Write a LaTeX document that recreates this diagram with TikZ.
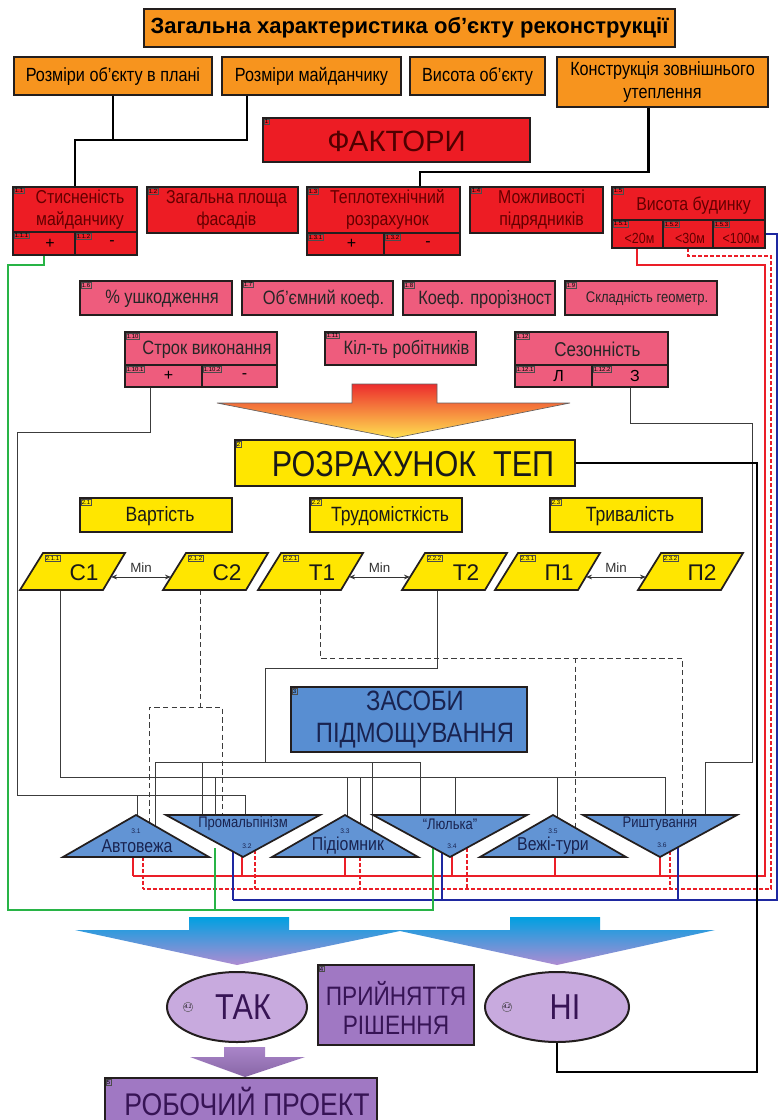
\documentclass[tikz,border=0pt]{standalone}
\usepackage{fontspec}
\setmainfont{Liberation Sans}
\newfontfamily\nar[FakeStretch=0.85]{Liberation Sans}
\usetikzlibrary{calc,fit,arrows.meta,shapes.geometric}
\definecolor{orC}{RGB}{247,148,30}
\definecolor{redC}{RGB}{237,28,36}
\definecolor{redT}{RGB}{100,0,0}
\definecolor{pinkC}{RGB}{238,92,125}
\definecolor{yelC}{RGB}{255,230,0}
\definecolor{bluC}{RGB}{88,142,210}
\definecolor{bluT}{RGB}{98,148,212}
\definecolor{navT}{RGB}{25,35,80}
\definecolor{lavC}{RGB}{200,170,222}
\definecolor{purC}{RGB}{160,120,195}
\definecolor{purT}{RGB}{55,20,85}
\definecolor{bdr}{RGB}{35,30,30}
\definecolor{lnC}{RGB}{60,60,60}
\definecolor{grnC}{RGB}{40,180,70}
\definecolor{bluL}{RGB}{30,40,160}
\definecolor{redL}{RGB}{235,30,40}
\definecolor{gA}{RGB}{236,45,45}
\definecolor{gB}{RGB}{255,225,80}
\definecolor{cA}{RGB}{0,160,225}
\definecolor{cB}{RGB}{175,140,210}
\tikzset{
  box/.style={draw=bdr, line width=1.5pt, inner sep=0pt},
  obox/.style={box, fill=orC},
  rbox/.style={box, fill=redC},
  pbox/.style={box, fill=pinkC},
  ybox/.style={box, fill=yelC},
  bbox/.style={box, fill=bluC},
  vbox/.style={box, fill=purC},
  ttl/.style={font=\bfseries\fontsize{16.5}{18}\selectfont, inner sep=0pt},
  otxt/.style={font=\nar\fontsize{14.3}{17}\selectfont, align=center, inner sep=0pt},
  rtxt/.style={text=redT, font=\nar\fontsize{14}{16.5}\selectfont, align=center, inner sep=0pt},
  r2txt/.style={text=redT, font=\nar\fontsize{11}{12}\selectfont, inner sep=0pt},
  ftxt/.style={text=redT!80!black, font=\fontsize{22}{24}\selectfont, inner sep=0pt},
  stxt/.style={text=black, font=\fontsize{12}{12}\selectfont, inner sep=0pt},
  ptxt/.style={text=black!85, font=\nar\fontsize{14.5}{15}\selectfont, inner sep=0pt},
  ptxts/.style={text=black!85, font=\nar\fontsize{11.5}{13}\selectfont, inner sep=0pt},
  ptxtl/.style={text=black!85, font=\nar\fontsize{15}{15}\selectfont, inner sep=0pt},
  teptxt/.style={text=black!90, font=\nar\fontsize{27}{28}\selectfont, inner sep=0pt},
  ytxt/.style={text=black!90, font=\nar\fontsize{15.5}{17}\selectfont, inner sep=0pt},
  ztxt/.style={text=navT, font=\nar\fontsize{21}{24}\selectfont, align=center, inner sep=0pt},
  vtxt/.style={text=purT, font=\nar\fontsize{20}{22}\selectfont, align=center, inner sep=0pt},
  robtxt/.style={text=purT, font=\nar\fontsize{23.5}{26}\selectfont, inner sep=0pt},
  elltxt/.style={text=purT, font=\nar\fontsize{27}{30}\selectfont, inner sep=0pt},
  partxt/.style={text=black!90, font=\fontsize{17}{18}\selectfont, inner sep=0pt},
  tritxt/.style={text=navT, font=\nar\fontsize{14}{15}\selectfont, inner sep=0pt},
  tritxts/.style={text=navT, font=\nar\fontsize{11.5}{12}\selectfont, inner sep=0pt},
  trinum/.style={text=navT, font=\fontsize{5}{5}\selectfont, inner sep=0pt},
  num/.style={draw=black!70, line width=0.3pt, inner sep=0.5pt, anchor=north west, font=\fontsize{4.5}{5}\selectfont},
  bkln/.style={line width=1.6pt, black},
  gln/.style={line width=0.55pt, lnC},
  glnd/.style={gln, dash pattern=on 4pt off 2.5pt},
  tepln/.style={line width=0.9pt, black},
  redln/.style={line width=1.8pt, redL},
  redd/.style={line width=1.8pt, redL, dash pattern=on 3pt off 1.5pt},
  bluln/.style={line width=1.1pt, bluL},
  grnln/.style={line width=1.4pt, grnC},
  tri/.style={draw=bdr, line width=1.3pt, fill=bluT},
  para/.style={draw=bdr, line width=1.3pt, fill=yelC},
  ell/.style={ellipse, draw=bdr, line width=1.5pt, fill=lavC, inner sep=0pt},
  minar/.style={line width=0.7pt, black!80, {Stealth[length=4.5pt,width=3.5pt]}-{Stealth[length=4.5pt,width=3.5pt]}},
  mintxt/.style={text=black!80, font=\fontsize{10}{10}\selectfont, inner sep=0pt},
}
\newcommand\bx[9]{%
  \node[#1, fit={(#3,#4)(#5,#6)}] (#2) {};
  \node[#7] (#2t) at ($(#2.center)+(#8)$) {#9};}
\newcommand\numl[2]{\node[num] (#1n) at ($(#1.north west)+(2,2)$) {#2};}
\newcommand\mypara[4]{% name, bottom-left x, number, text
  \draw[para] (#2,590) -- (#2+23,553) -- (#2+105,553) -- (#2+83,590) -- cycle;
  \node[partxt] (#1) at (#2+64,573) {#4};
  \node[num] (#1n) at (#2+25,555) {#3};
  \coordinate (#1-l) at (#2+8,577);
  \coordinate (#1-r) at (#2+91,577);}
\begin{document}
\begin{tikzpicture}[x=0.75pt,y=-0.75pt]
\useasboundingbox (0,0) rectangle (778,1120);
\clip (0,0) rectangle (778,1120);

% ---------- connectors (drawn first) ----------
\coordinate (jA) at (75,140);
\coordinate (jB) at (420,172);
\coordinate (c1-b) at (60,590);
\coordinate (c2-b) at (200,590);
\coordinate (t1-b) at (320,590);
\coordinate (t2-b) at (437,590);
\coordinate (ni-s) at (557,1042);

% gray routing in middle
\draw[gln] (150,387) |- (17,432) -- (17,795) -- (245,795) -- (245,815);
\draw[gln] (137,795) -- (137,815);
\draw[gln] (630,387) |- (752,423) -- (752,762) -- (705,762) -- (705,815);
\draw[gln] (c1-b) |- (665,777) -- (665,815);
\foreach \xx/\yy in {215/815, 347/816, 360/824, 455/815, 557/817}
  \draw[gln] (\xx,777) -- (\xx,\yy);
\draw[gln] (t2-b) |- (265,668) -- (265,762);
\draw[gln] (155,762) -- (420,762);
\foreach \xx/\yy in {155/826, 202/815, 372/830, 420/815}
  \draw[gln] (\xx,762) -- (\xx,\yy);
\draw[glnd] (c2-b) -- (200,707);
\draw[glnd] (149,823) -- (149,707) -- (222,707) -- (222,815);
\draw[glnd] (t1-b) |- (682,658) -- (682,815);
\draw[glnd] (575,658) -- (575,827);

% colored long lines
\draw[redln] (637,248) |- (765,265) -- (765,876) -- (133,876);
\foreach \xx in {133,242,345,452,555,660}
  \draw[redln] (\xx,856) -- (\xx,876);
\draw[redd] (688,248) |- (771,256) -- (771,889) -- (143,889);
\foreach \xx/\yy in {143/857, 255/850, 360/857, 467/848, 670/851}
  \draw[redd] (\xx,\yy) -- (\xx,889);
\draw[bluln] (765,234) -- (777,234) -- (777,900) -- (233,900);
\foreach \xx/\yy in {233/852, 442/853, 678/847}
  \draw[bluln] (\xx,\yy) -- (\xx,900);
\draw[grnln] (44,255) |- (8,265) -- (8,910) -- (433,910) -- (433,843);
\draw[grnln] (215,910) -- (215,848);

% ---------- top ----------
\bx{obox}{title}{144}{9}{675}{47}{ttl}{0,0}{Загальна характеристика об’єкту реконструкції}
\bx{obox}{o1}{14}{57}{212}{95}{otxt}{0,0}{Розміри об’єкту в плані}
\bx{obox}{o2}{222}{57}{401}{95}{otxt}{0,0}{Розміри майданчику}
\bx{obox}{o3}{410}{57}{545}{95}{otxt}{0,0}{Висота об’єкту}
\bx{obox}{o4}{557}{57}{768}{107}{otxt}{0,0}{Конструкція зовнішнього\\утеплення}

\draw[bkln] (o1.south) |- (jA) -- (75,187);
\draw[bkln] ($(o2.south west)+(26,0)$) |- (jA);
\draw[bkln] ($(o4.south)+(-14,0)$) |- (jB) -- (420,187);

\bx{rbox}{fak}{263}{118}{530}{162}{ftxt}{0,1}{ФАКТОРИ}
\numl{fak}{1}

\bx{rbox}{f11}{13}{187}{137}{232}{rtxt}{5,0}{Стисненість\\майданчику}
\bx{rbox}{f111}{13}{232}{75}{255}{stxt}{6,0}{+}
\bx{rbox}{f112}{75}{232}{137}{255}{stxt}{6,0}{-}
\bx{rbox}{f12}{147}{187}{298}{233}{rtxt}{4,0}{Загальна площа\\фасадів}
\bx{rbox}{f13}{307}{187}{460}{233}{rtxt}{4,0}{Теплотехнічний\\розрахунок}
\bx{rbox}{f131}{307}{233}{384}{255}{stxt}{6,0}{+}
\bx{rbox}{f132}{384}{233}{460}{255}{stxt}{6,0}{-}
\bx{rbox}{f14}{470}{187}{603}{233}{rtxt}{5,0}{Можливості\\підрядників}
\bx{rbox}{f15}{612}{187}{765}{220}{rtxt}{5,2}{Висота будинку}
\bx{rbox}{f151}{612}{220}{663}{248}{r2txt}{2,4}{<20м}
\bx{rbox}{f152}{663}{220}{713}{248}{r2txt}{2,4}{<30м}
\bx{rbox}{f153}{713}{220}{765}{248}{r2txt}{2,4}{<100м}
\numl{f11}{1.1}\numl{f111}{1.1.1}\numl{f112}{1.1.2}
\numl{f12}{1.2}\numl{f13}{1.3}\numl{f131}{1.3.1}\numl{f132}{1.3.2}
\numl{f14}{1.4}\numl{f15}{1.5}\numl{f151}{1.5.1}\numl{f152}{1.5.2}\numl{f153}{1.5.3}

\bx{pbox}{p16}{80}{281}{232}{315}{ptxt}{6,1}{\% ушкодження}
\bx{pbox}{p17}{242}{281}{393}{315}{ptxt}{6,1}{Об’ємний коеф.}
\bx{pbox}{p18}{403}{281}{555}{315}{ptxt}{6,1}{Коеф. прорізност}
\bx{pbox}{p19}{565}{281}{717}{315}{ptxts}{6,1}{Складність геометр.}
\bx{pbox}{p110}{125}{332}{277}{365}{ptxt}{6,1}{Строк виконання}
\bx{pbox}{p1101}{125}{365}{202}{387}{stxt}{5,0}{+}
\bx{pbox}{p1102}{202}{365}{277}{387}{stxt}{5,0}{-}
\bx{pbox}{p111}{325}{332}{476}{365}{ptxt}{6,1}{Кіл-ть робітників}
\bx{pbox}{p112}{515}{332}{668}{365}{ptxtl}{6,1}{Сезонність}
\bx{pbox}{p1121}{515}{365}{592}{387}{stxt}{5,0}{Л}
\bx{pbox}{p1122}{592}{365}{668}{387}{stxt}{5,0}{З}
\numl{p16}{1.6}\numl{p17}{1.7}\numl{p18}{1.8}\numl{p19}{1.9}
\numl{p110}{1.10}\numl{p1101}{1.10.1}\numl{p1102}{1.10.2}\numl{p111}{1.11}
\numl{p112}{1.12}\numl{p1121}{1.12.1}\numl{p1122}{1.12.2}

% gradient arrow 1
\shade[top color=gA, bottom color=gB, draw=bdr!70, line width=0.5pt]
  (352,384) -- (437,384) -- (437,403) -- (570,403) -- (395,438) -- (217,403) -- (352,403) -- cycle;

% ---------- yellow ----------
\bx{ybox}{tep}{235}{440}{575}{486}{teptxt}{8,1}{РОЗРАХУНОК\ \ ТЕП}
\numl{tep}{2}
\draw[tepln] (tep.east) -- (757,463) -- (757,1072) -- (557,1072) -- (ni-s);
\bx{ybox}{y21}{80}{498}{232}{532}{ytxt}{4,1}{Вартість}
\bx{ybox}{y22}{310}{498}{462}{532}{ytxt}{4,1}{Трудомісткість}
\bx{ybox}{y23}{550}{498}{702}{532}{ytxt}{4,1}{Тривалість}
\numl{y21}{2.1}\numl{y22}{2.2}\numl{y23}{2.3}

\mypara{c1}{20}{2.1.1}{С1}
\mypara{c2}{163}{2.1.2}{С2}
\mypara{t1}{258}{2.2.1}{Т1}
\mypara{t2}{402}{2.2.2}{Т2}
\mypara{p1}{495}{2.3.1}{П1}
\mypara{p2}{638}{2.3.2}{П2}
\draw[minar] (c1-r) -- (c2-l) node[mintxt, midway, above=3pt] (m1) {Min};
\draw[minar] (t1-r) -- (t2-l) node[mintxt, midway, above=3pt] (m2) {Min};
\draw[minar] (p1-r) -- (p2-l) node[mintxt, midway, above=3pt] (m3) {Min};

% ---------- blue ----------
\bx{bbox}{zas}{291}{687}{527}{752}{ztxt}{6,0}{ЗАСОБИ\\ПІДМОЩУВАННЯ}
\numl{zas}{3}

\draw[tri] (136,815) -- (209,857) -- (63,857) -- cycle;
\draw[tri] (166,815) -- (320,815) -- (243,857) -- cycle;
\draw[tri] (345,815) -- (418,857) -- (272,857) -- cycle;
\draw[tri] (373,815) -- (527,815) -- (450,857) -- cycle;
\draw[tri] (553,815) -- (626,857) -- (480,857) -- cycle;
\draw[tri] (583,815) -- (737,815) -- (660,857) -- cycle;
\node[tritxt] (tr1) at (137,846) {Автовежа};
\node[trinum] (tr1n) at (136,831) {3.1};
\node[tritxts] (tr2) at (243,824) {Промальпінізм};
\node[trinum] (tr2n) at (247,846) {3.2};
\node[tritxt] (tr3) at (348,846) {Підіомник};
\node[trinum] (tr3n) at (345,831) {3.3};
\node[tritxts] (tr4) at (450,824) {“Люлька”};
\node[trinum] (tr4n) at (452,846) {3.4};
\node[tritxt] (tr5) at (553,846) {Вежі-тури};
\node[trinum] (tr5n) at (553,831) {3.5};
\node[tritxts] (tr6) at (660,824) {Риштування};
\node[trinum] (tr6n) at (662,845) {3.6};

% big arrow 2
\shade[top color=cA, bottom color=cB]
  (75,930) -- (189,930) -- (189,917) -- (289,917) -- (289,930) -- (510,930) -- (510,917)
  -- (600,917) -- (600,930) -- (715,930) -- (557,965) -- (400,931) -- (237,965) -- cycle;

% ---------- purple ----------
\node[ell, minimum width=105pt, minimum height=52.5pt] (tak) at (237,1007) {};
\node[elltxt] (takt) at (243,1007) {ТАК};
\node[circle, draw=black!70, line width=0.3pt, inner sep=0.4pt, font=\itshape\fontsize{4}{4}\selectfont] (takn) at (188,1007) {4.1};
\node[ell, minimum width=108pt, minimum height=52.5pt] (ni) at (557,1007) {};
\node[elltxt] (nit) at (565,1007) {НІ};
\node[circle, draw=black!70, line width=0.3pt, inner sep=0.4pt, font=\itshape\fontsize{4}{4}\selectfont] (nin) at (507,1007) {4.2};
\bx{vbox}{prr}{318}{965}{474}{1045}{vtxt}{0,3}{ПРИЙНЯТТЯ\\РІШЕННЯ}
\numl{prr}{4}

\shade[top color=purC!90!white, bottom color=purC!85!black]
  (224,1047) -- (265,1047) -- (265,1057) -- (305,1057) -- (245,1077) -- (190,1057) -- (224,1057) -- cycle;

\bx{vbox}{rob}{105}{1078}{377}{1130}{robtxt}{6,-3}{РОБОЧИЙ ПРОЕКТ}
\numl{rob}{5}
\end{tikzpicture}
\end{document}
